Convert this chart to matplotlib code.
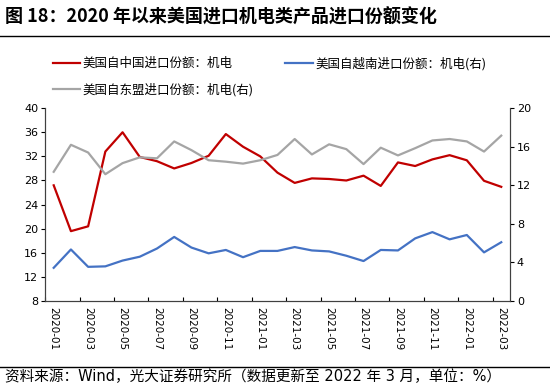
import matplotlib
matplotlib.use("Agg")
import matplotlib.pyplot as plt
from matplotlib.lines import Line2D
import numpy as np
import pandas as pd

plt.rcParams['font.family'] = ['Noto Sans CJK SC', 'DejaVu Sans']

months = [p.strftime('%Y-%m') for p in pd.period_range('2020-01', '2022-03', freq='M')]

# 美国自中国进口份额：机电 (left axis)
china = [27.2, 19.6, 20.4, 32.8, 36.0, 31.9, 31.2, 30.0, 30.9, 32.1, 35.7, 33.6,
         32.0, 29.3, 27.6, 28.35, 28.25, 28.0, 28.8, 27.1, 31.0, 30.4, 31.5, 32.2,
         31.35, 27.95, 26.95]
# 美国自越南进口份额：机电(右)
vietnam = [3.45, 5.35, 3.55, 3.6, 4.2, 4.6, 5.45, 6.65, 5.55, 4.95, 5.3, 4.55,
           5.2, 5.2, 5.6, 5.25, 5.15, 4.7, 4.15, 5.3, 5.25, 6.5, 7.15, 6.4,
           6.85, 5.05, 6.1]
# 美国自东盟进口份额：机电(右)
asean = [13.4, 16.2, 15.4, 13.15, 14.3, 14.9, 14.8, 16.55, 15.65, 14.6, 14.45, 14.25,
         14.6, 15.15, 16.8, 15.2, 16.25, 15.75, 14.2, 15.9, 15.1, 15.85, 16.65, 16.8,
         16.55, 15.5, 17.15]

red = '#C00000'
blue = '#4472C4'
gray = '#A5A5A5'

fig = plt.figure(figsize=(5.5, 3.89), dpi=100)
ax = fig.add_axes([0.082, 0.226, 0.845, 0.496])
ax2 = ax.twinx()

x = np.arange(len(months))
l1, = ax.plot(x, china, color=red, lw=1.6, label='美国自中国进口份额：机电')
l2, = ax2.plot(x, vietnam, color=blue, lw=1.6, label='美国自越南进口份额：机电(右)')
l3, = ax2.plot(x, asean, color=gray, lw=1.6, label='美国自东盟进口份额：机电(右)')

ax.set_xlim(-0.5, len(months) - 0.5)
ax.set_ylim(8, 40)
ax.set_yticks(np.arange(8, 41, 4))
ax2.set_ylim(0, 20)
ax2.set_yticks(np.arange(0, 21, 4))

ax.set_xticks(x[::2])
ax.set_xticklabels(months[::2], rotation=-90, fontsize=7.5, family='DejaVu Sans')
ax.set_xticks(np.arange(-0.5, len(months), 2), minor=True)
ax.tick_params(axis='x', which='major', length=0, pad=4)
ax.tick_params(axis='x', which='minor', direction='in', length=3, width=0.8)
ax.tick_params(axis='y', length=3, width=0.8, labelsize=8, pad=2)
ax2.tick_params(axis='y', length=3, width=0.8, labelsize=8, pad=2)
for t in ax.get_yticklabels() + ax2.get_yticklabels():
    t.set_family('DejaVu Sans')

for a in (ax, ax2):
    a.spines['top'].set_visible(False)
    for s in ('left', 'right', 'bottom'):
        a.spines[s].set_linewidth(0.8)
        a.spines[s].set_color('#404040')

fig.legend(handles=[l1, l3, l2], ncol=2, loc='upper left',
           bbox_to_anchor=(0.096, 0.854), frameon=False, fontsize=9,
           handlelength=2.2, handletextpad=0.2, columnspacing=2.5,
           labelspacing=1.05, borderpad=0, borderaxespad=0)

fig.text(0.009, 0.956, '图 18：2020 年以来美国进口机电类产品进口份额变化',
         fontsize=13, fontweight='bold', va='center', ha='left')
fig.add_artist(Line2D([0, 1], [0.9075, 0.9075], transform=fig.transFigure,
                      color='black', lw=1))
fig.add_artist(Line2D([0, 1], [0.0566, 0.0566], transform=fig.transFigure,
                      color='black', lw=1))
fig.text(0.009, 0.031, '资料来源：Wind，光大证券研究所（数据更新至 2022 年 3 月，单位：%）',
         fontsize=10.5, va='center', ha='left', family=['DejaVu Sans', 'Noto Sans CJK SC'])

fig.savefig('out.png', dpi=100)
